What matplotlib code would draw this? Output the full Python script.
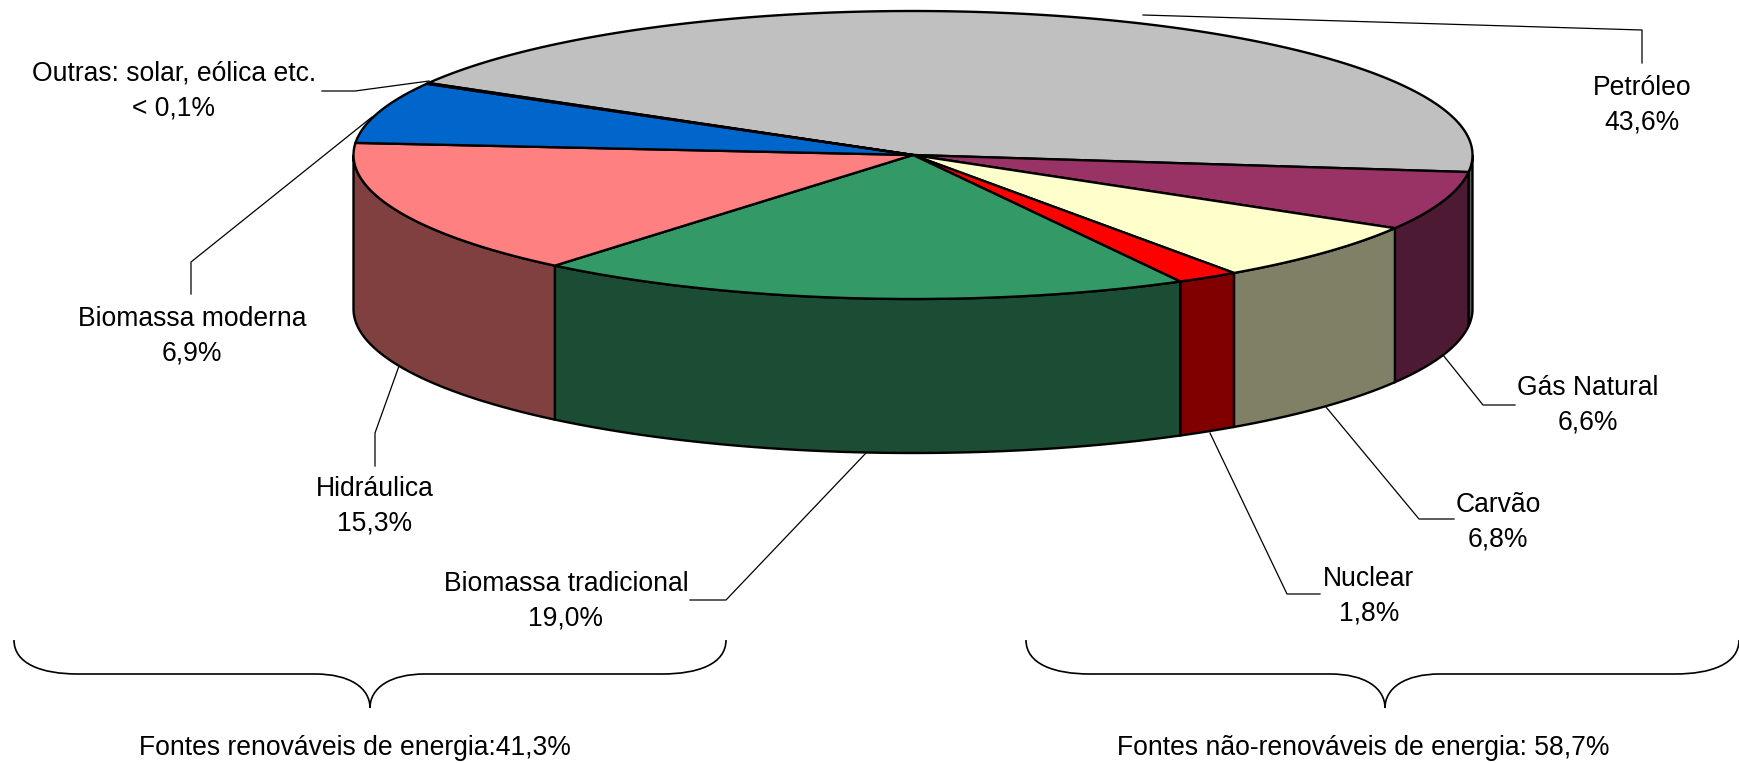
import numpy as np
import matplotlib
matplotlib.use("Agg")
import matplotlib.pyplot as plt
from matplotlib.patches import Polygon, PathPatch
from matplotlib.path import Path

plt.rcParams["font.family"] = ["Liberation Sans", "DejaVu Sans"]

# slices, clockwise starting at Petroleo
names = ["Petróleo", "Gás Natural", "Carvão", "Nuclear", "Biomassa tradicional",
         "Hidráulica", "Biomassa moderna", "Outras: solar, eólica etc."]
shares = [43.6, 6.6, 6.8, 1.8, 19.0, 15.3, 6.9, 0.1]
share_labels = ["43,6%", "6,6%", "6,8%", "1,8%", "19,0%", "15,3%", "6,9%", "< 0,1%"]
top_colors = ["#C0C0C0", "#993366", "#FFFFCC", "#FF0000", "#339966", "#FF8080", "#0066CC", "#CCFFCC"]
side_colors = ["#606060", "#4D1A33", "#808066", "#800000", "#1A4D33", "#804040", "#003366", "#668066"]

group_labels = ["Fontes renováveis de energia:41,3%", "Fontes não-renováveis de energia: 58,7%"]

# pie geometry in pixels of the page
CX, CY = 913, 155
RX, RY = 559.5, 144
DEPTH = 154
START = 150.0
LW = 1.7


def ell(a):
    a = np.radians(a)
    return CX + RX * np.cos(a), CY - RY * np.sin(a)


def brace(ax, x0, x1, xm, top=640, mid=674, tip=708):
    verts = [(x0, top), (x0, top + 24), (x0 + 28, mid), (x0 + 64, mid),
             (xm - 55, mid), (xm - 55, mid), (xm - 55, mid),
             (xm - 20, mid), (xm, mid + 14), (xm, tip),
             (xm, mid + 14), (xm + 20, mid), (xm + 55, mid),
             (x1 - 64, mid), (x1 - 64, mid), (x1 - 64, mid),
             (x1 - 28, mid), (x1, top + 24), (x1, top)]
    codes = [Path.MOVETO] + [Path.CURVE4] * 18
    ax.add_patch(PathPatch(Path(verts, codes), fc="none", ec="black", lw=1.2))


fig = plt.figure(figsize=(17.4, 7.63), dpi=100)
ax = fig.add_axes([0, 0, 1, 1])
ax.set_xlim(0, 1740)
ax.set_ylim(763, 0)
ax.axis("off")

ends = START - np.cumsum(shares) / sum(shares) * 360
starts = np.r_[START, ends[:-1]]

# side walls first, only the front half of the disc shows
for a0, a1, c in zip(starts, ends, side_colors):
    lo, hi = max(a1, -180), min(a0, 0)
    if hi <= lo:
        continue
    t = np.linspace(hi, lo, 80)
    x, y = ell(t)
    pts = np.r_[np.c_[x, y], np.c_[x[::-1], y[::-1] + DEPTH]]
    ax.add_patch(Polygon(pts, closed=True, fc=c, ec="black", lw=LW, zorder=2))

# top face
for a0, a1, c in zip(starts, ends, top_colors):
    t = np.linspace(a0, a1, max(int(a0 - a1) * 2, 4))
    x, y = ell(t)
    pts = np.r_[[[CX, CY]], np.c_[x, y]]
    ax.add_patch(Polygon(pts, closed=True, fc=c, ec="black", lw=LW, zorder=3))

# leader lines
leaders = [
    [(1143, 15), (1642, 30), (1642, 63)],
    [(1443, 355), (1483, 405), (1515, 405)],
    [(1326, 407), (1419, 519), (1454, 519)],
    [(1210, 433), (1287, 594), (1320, 594)],
    [(866, 453), (726, 600), (690, 600)],
    [(399, 366), (375, 433), (375, 466)],
    [(372, 117), (191, 262), (191, 294)],
    [(429, 81), (355, 91), (322, 91)],
]
for pts in leaders:
    xs, ys = zip(*pts)
    ax.plot(xs, ys, color="black", lw=0.9, zorder=1)

label_xy = [(1642, 105), (1588, 405), (1498, 522), (1369, 596),
            (566, 601), (375, 506), (192, 336), (174, 91)]
for name, lab, (x, y) in zip(names, share_labels, label_xy):
    ax.text(x, y, name + "\n" + lab, ha="center", va="center", fontsize=19.1,
            linespacing=1.42, color="black", zorder=5)

brace(ax, 14, 726, 370)
brace(ax, 1026, 1739, 1385)
ax.text(355, 748, group_labels[0], ha="center", va="center", fontsize=19.1)
ax.text(1363, 748, group_labels[1], ha="center", va="center", fontsize=19.1)

fig.savefig("out.png", dpi=100, facecolor="white")
